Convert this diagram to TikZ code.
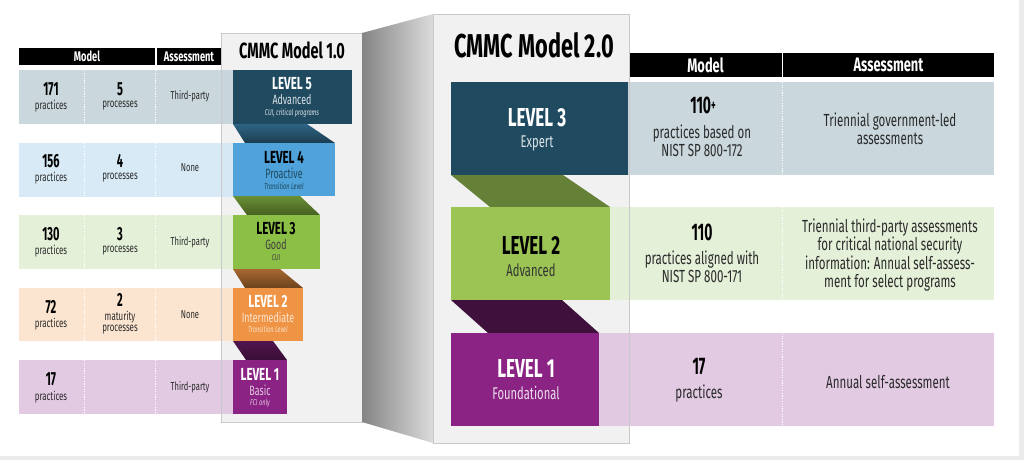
\documentclass[tikz,border=0pt]{standalone}
\usepackage{fontspec}
\setmainfont{Fira Sans}[FakeStretch=0.66]
\newfontfamily\numfont{Fira Sans}[FakeStretch=0.58]
\usetikzlibrary{shapes.geometric}
\definecolor{rA}{HTML}{C5D3DA}
\definecolor{rB}{HTML}{D4E8F5}
\definecolor{rC}{HTML}{E3EFD5}
\definecolor{rD}{HTML}{FBE3CB}
\definecolor{rE}{HTML}{DFC5E0}
\definecolor{lvA}{HTML}{1F4A60}
\definecolor{lvB}{HTML}{4FA3DA}
\definecolor{lvC}{HTML}{8CBF45}
\definecolor{lvD}{HTML}{EF9444}
\definecolor{lvE}{HTML}{8A2383}
\definecolor{lvG}{HTML}{9BC454}
\definecolor{panel}{HTML}{F1F1F1}
\definecolor{pborder}{HTML}{C9C9C9}
\definecolor{txt}{HTML}{2A2A2A}
\definecolor{frame}{HTML}{ECECEC}
\tikzset{
  rowbox/.style={anchor=north west, inner sep=0pt, outer sep=0pt, draw=none},
  lvbox/.style={anchor=north west, inner sep=0pt, outer sep=0pt, draw=none},
  hdrbox/.style={anchor=north west, inner sep=0pt, outer sep=0pt, fill=black, draw=none},
  hdrtxt/.style={text=white, font=\bfseries\fontsize{14}{14}\selectfont, inner sep=0pt},
  hdrtxtB/.style={text=white, font=\bfseries\fontsize{19.5}{19.5}\selectfont, inner sep=0pt},
  num/.style={text=black, font=\numfont\bfseries\fontsize{19}{19}\selectfont, inner sep=0pt},
  sub/.style={text=txt, font=\fontsize{12}{11}\selectfont, inner sep=0pt, align=center},
  subC/.style={text=txt, font=\fontsize{11.5}{11}\selectfont, inner sep=0pt, align=center},
  numB/.style={text=black, font=\numfont\bfseries\fontsize{24}{24}\selectfont, inner sep=0pt},
  subB/.style={text=txt, font=\fontsize{17.5}{18.5}\selectfont, inner sep=0pt, align=center},
  lvtitle/.style={font=\bfseries\fontsize{17.5}{17.5}\selectfont, inner sep=0pt},
  lvname/.style={font=\fontsize{13.5}{13.5}\selectfont, inner sep=0pt},
  lvnote/.style={font=\itshape\fontsize{8.5}{8.5}\selectfont, inner sep=0pt},
  lvtitleB/.style={font=\bfseries\fontsize{26}{26}\selectfont, inner sep=0pt},
  lvnameB/.style={font=\fontsize{17}{17}\selectfont, inner sep=0pt},
  divline/.style={white, line width=0.9pt, dash pattern=on 1.2pt off 1.4pt},
}
\begin{document}
\begin{tikzpicture}[x=1pt,y=-1pt]
\useasboundingbox (0,0) rectangle (1024,460);
\fill[white] (0,0) rectangle (1024,460);
\fill[frame] (1019,0) rectangle (1024,460);
\fill[frame] (0,456) rectangle (1024,460);

% ---------- Model 1.0 panel background ----------
\node[rowbox, fill=panel, minimum width=141pt, minimum height=389pt] (p1) at (221,33) {};

% ---------- left table ----------
\node[hdrbox, minimum width=136pt, minimum height=17pt] (lhm) at (19,48) {};
\node[hdrbox, minimum width=64pt, minimum height=17pt] (lha) at (157,48) {};
\node[hdrtxt] (lhmt) at (lhm.center) {Model};
\node[hdrtxt] (lhat) at (lha.center) {Assessment};

\node[rowbox, fill=rA, fill opacity=0.9, minimum width=214pt, minimum height=54pt] (ra) at (19,70) {};
\node[rowbox, fill=rB, fill opacity=0.9, minimum width=214pt, minimum height=54pt] (rb) at (19,143) {};
\node[rowbox, fill=rC, fill opacity=0.9, minimum width=214pt, minimum height=54pt] (rc) at (19,215) {};
\node[rowbox, fill=rD, fill opacity=0.9, minimum width=214pt, minimum height=53pt] (rd) at (19,288) {};
\node[rowbox, fill=rE, fill opacity=0.9, minimum width=214pt, minimum height=54pt] (re) at (19,360) {};
\foreach \r in {ra,rb,rc,rd,re}{
  \draw[divline] ([xshift=65pt]\r.north west) -- ([xshift=65pt]\r.south west);
  \draw[divline] ([xshift=136pt]\r.north west) -- ([xshift=136pt]\r.south west);
}
% panel 1.0 border
\draw[pborder, line width=0.8pt] (p1.north west) rectangle (p1.south east);

% row texts
\node[num] (a1) at (51,89) {171};
\node[sub] (a2) at (51,106) {practices};
\node[num] (a3) at (120,89) {5};
\node[sub] (a4) at (120,106) {processes};
\node[subC] (a5) at (190,96) {Third-party};

\node[num] (b1) at (51,161) {156};
\node[sub] (b2) at (51,178) {practices};
\node[num] (b3) at (120,161) {4};
\node[sub] (b4) at (120,178) {processes};
\node[subC] (b5) at (190,168) {None};

\node[num] (c1) at (51,234) {130};
\node[sub] (c2) at (51,251) {practices};
\node[num] (c3) at (120,234) {3};
\node[sub] (c4) at (120,251) {processes};
\node[subC] (c5) at (190,242) {Third-party};

\node[num] (d1) at (51,307) {72};
\node[sub] (d2) at (51,324) {practices};
\node[num] (d3) at (120,300) {2};
\node[sub] (d4) at (120,323) {maturity\\processes};
\node[subC] (d5) at (190,315) {None};

\node[num] (e1) at (51,379) {17};
\node[sub] (e2) at (51,397) {practices};
\node[subC] (e5) at (190,387) {Third-party};

% ---------- Model 1.0 levels ----------
\node[font=\bfseries\fontsize{22}{22}\selectfont, text=black, inner sep=0pt] (t1) at (292,50) {CMMC Model 1.0};

\shade[top color=lvA!70!lvB, bottom color=lvA!85!lvB!70!black] (233,124) -- (307,124) -- (335,143) -- (245,143) -- cycle;
\shade[top color=lvC!75!black, bottom color=lvC!50!black] (233,196) -- (300,196) -- (320,215) -- (247,215) -- cycle;
\shade[top color=lvD!70!black, bottom color=lvD!45!black] (233,269) -- (280,269) -- (303,288) -- (245,288) -- cycle;
\shade[top color=lvE!60!black, bottom color=lvE!40!black] (233,341) -- (273,341) -- (287,360) -- (246,360) -- cycle;

\node[lvbox, fill=lvA, minimum width=119pt, minimum height=54pt] (l5) at (233,70) {};
\node[lvbox, fill=lvB, minimum width=102pt, minimum height=53pt] (l4) at (233,143) {};
\node[lvbox, fill=lvC, minimum width=87pt, minimum height=54pt] (l3) at (233,215) {};
\node[lvbox, fill=lvD, minimum width=70pt, minimum height=53pt] (l2) at (233,288) {};
\node[lvbox, fill=lvE, minimum width=54pt, minimum height=54pt] (l1) at (233,360) {};

\node[lvtitle, text=white] (l5a) at (292,84) {LEVEL 5};
\node[lvname, text=white!85!lvA] (l5b) at (292,100) {Advanced};
\node[lvnote, text=white!85!lvA] (l5c) at (292,113) {CUI, critical programs};

\node[lvtitle, text=black] (l4a) at (284,157) {LEVEL 4};
\node[lvname, text=lvA] (l4b) at (284,173) {Proactive};
\node[lvnote, text=lvA] (l4c) at (284,186) {Transition Level};

\node[lvtitle, text=black] (l3a) at (276,229) {LEVEL 3};
\node[lvname, text=black!75] (l3b) at (276,245) {Good};
\node[lvnote, text=black!75] (l3c) at (276,258) {CUI};

\node[lvtitle, text=white] (l2a) at (268,301) {LEVEL 2};
\node[lvname, text=white!75!lvD] (l2b) at (268,317) {Intermediate};
\node[lvnote, text=white!70!lvD] (l2c) at (268,329) {Transition Level};

\node[lvtitle, text=white] (l1a) at (260,374) {LEVEL 1};
\node[lvname, text=white!75!lvE] (l1b) at (260,390) {Basic};
\node[lvnote, text=white!75!lvE] (l1c) at (260,403) {FCI only};

% ---------- connecting side ----------
\shade[left color=black!48, right color=black!14] (362,33) -- (433,14) -- (433,443) -- (362,422) -- cycle;

% ---------- Model 2.0 panel ----------
\node[rowbox, fill=panel, minimum width=196pt, minimum height=429pt] (p2) at (433,14) {};

% right table
\node[hdrbox, minimum width=153pt, minimum height=24pt] (rhm) at (629,53) {};
\node[hdrbox, minimum width=211pt, minimum height=24pt] (rha) at (783,53) {};
\node[hdrtxtB] (rhmt) at (rhm.center) {Model};
\node[hdrtxtB] (rhat) at (rha.center) {Assessment};

\node[rowbox, fill=rA, fill opacity=0.9, minimum width=366pt, minimum height=93pt] (sa) at (628,82) {};
\node[rowbox, fill=rC, fill opacity=0.9, minimum width=384pt, minimum height=93pt] (sb) at (610,207) {};
\node[rowbox, fill=rE, fill opacity=0.9, minimum width=395pt, minimum height=93pt] (sc) at (599,333) {};
\foreach \r in {sa,sb,sc}{
  \draw[divline] (782,0 |- \r.north) -- (782,0 |- \r.south);
}
\draw[pborder, line width=0.8pt] (p2.north west) rectangle (p2.south east);

\node[font=\bfseries\fontsize{33}{33}\selectfont, text=black, inner sep=0pt] (t2) at (534,45) {CMMC Model 2.0};

\fill[lvG!65!black] (451,175) -- (563,175) -- (610,207) -- (490,207) -- cycle;
\fill[lvE!45!black] (451,300) -- (562,300) -- (599,333) -- (488,333) -- cycle;

\node[lvbox, fill=lvA, minimum width=177pt, minimum height=93pt] (m3) at (451,82) {};
\node[lvbox, fill=lvG, minimum width=159pt, minimum height=93pt] (m2) at (451,207) {};
\node[lvbox, fill=lvE, minimum width=148pt, minimum height=93pt] (m1) at (451,333) {};

\node[lvtitleB, text=white] (m3a) at (537,118) {LEVEL 3};
\node[lvnameB, text=white!85!lvA] (m3b) at (537,143) {Expert};
\node[lvtitleB, text=black] (m2a) at (531,245) {LEVEL 2};
\node[lvnameB, text=black!80] (m2b) at (531,270) {Advanced};
\node[lvtitleB, text=white] (m1a) at (526,368) {LEVEL 1};
\node[lvnameB, text=white!85!lvE] (m1b) at (526,393) {Foundational};

% right table texts
\node[numB] (sa1) at (703,105) {110\raisebox{0.12em}{\fontsize{15}{15}\selectfont+}};
\node[subB] (sa2) at (702,141) {practices based on\\NIST SP 800-172};
\node[subB] (sa3) at (890,129) {Triennial government-led\\assessments};

\node[numB] (sb1) at (702,232) {110};
\node[subB] (sb2) at (702,267) {practices aligned with\\NIST SP 800-171};
\node[subB] (sb3) at (890,255) {Triennial third-party assessments\\for critical national security\\information: Annual self-assess-\\ment for select programs};

\node[numB] (sc1) at (699,367) {17};
\node[subB] (sc2) at (699,394) {practices};
\node[subB] (sc3) at (888,382) {Annual self-assessment};
\end{tikzpicture}
\end{document}
